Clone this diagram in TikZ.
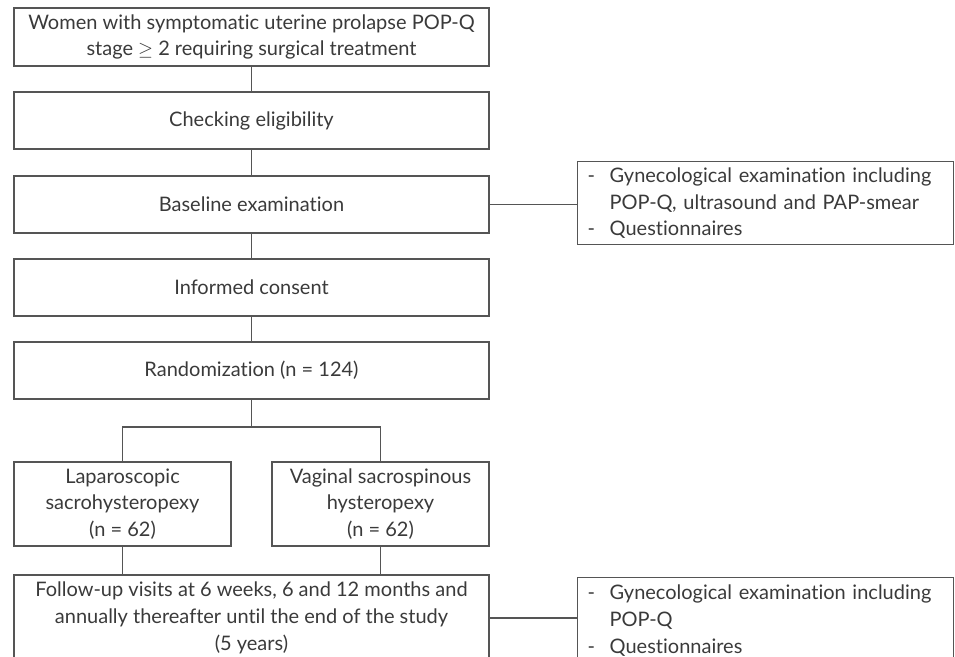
\documentclass[tikz,border=0pt]{standalone}
\usepackage{fontspec}
\setmainfont{Lato}[Ligatures={NoCommon}]
\definecolor{linec}{HTML}{555555}
\definecolor{textc}{HTML}{3A3A3A}
\newcommand{\dashitem}{\makebox[16.5pt][l]{-}}
\newcommand{\dashskip}{\hspace*{16.5pt}}
\begin{document}
\begin{tikzpicture}[x=0.75pt,y=-0.75pt,
  every node/.style={font=\fontsize{15pt}{20pt}\selectfont, text=textc},
  box/.style={draw=linec, line width=1pt, rectangle, inner sep=0pt, align=center},
  wide/.style={box, minimum width={475*0.75pt}, minimum height={57*0.75pt}},
  arm/.style={box, minimum width={217*0.75pt}, minimum height={84*0.75pt}},
  note/.style={box, minimum width={376*0.75pt}, align=left, anchor=north west, text width={356*0.75pt}, inner xsep={10*0.75pt}, inner ysep={6*0.75pt}},
  conn/.style={draw=linec, line width=1pt}]
\useasboundingbox (0,0) rectangle (955,656);
\clip (0,0) rectangle (955,656);
\node[wide, minimum height={58*0.75pt}, font=\fontsize{15pt}{19pt}\selectfont] (top) at (251.5,37) {Women with symptomatic uterine prolapse POP-Q\\stage $\geq$ 2 requiring surgical treatment};
\node[wide] (check) at (251.5,120.5) {Checking eligibility};
\node[wide] (base) at (251.5,204.5) {Baseline examination};
\node[wide] (consent) at (251.5,287.5) {Informed consent};
\node[wide] (rand) at (251.5,370.5) {Randomization (n = 124)};
\node[arm] (left) at (122.5,504) {Laparoscopic\\sacrohysteropexy\\(n = 62)};
\node[arm] (right) at (380.5,504) {Vaginal sacrospinous\\hysteropexy\\(n = 62)};
\node[wide, minimum height={86*0.75pt}] (follow) at (251.5,618) {Follow-up visits at 6 weeks, 6 and 12 months and\\annually thereafter until the end of the study\\(5 years)};
\node[note, minimum height={83*0.75pt}] (note1) at (577,161) {\dashitem Gynecological examination including\\\dashskip POP-Q, ultrasound and PAP-smear\\\dashitem Questionnaires};
\node[note, minimum height={86*0.75pt}] (note2) at (577,577) {\dashitem Gynecological examination including\\\dashskip POP-Q\\\dashitem Questionnaires};
\coordinate (split) at (251.5,427);
\draw[conn] (top) -- (check);
\draw[conn] (check) -- (base);
\draw[conn] (base) -- (consent);
\draw[conn] (consent) -- (rand);
\draw[conn] (rand) -- (split);
\draw[conn] (split) -| (left.north);
\draw[conn] (split) -| (right.north);
\draw[conn] (left.south) -- (left.south |- follow.north);
\draw[conn] (right.south) -- (right.south |- follow.north);
\draw[conn] (base.east) -- (base.east -| note1.west);
\draw[conn] (follow.east) -- (follow.east -| note2.west);
\end{tikzpicture}
\end{document}
